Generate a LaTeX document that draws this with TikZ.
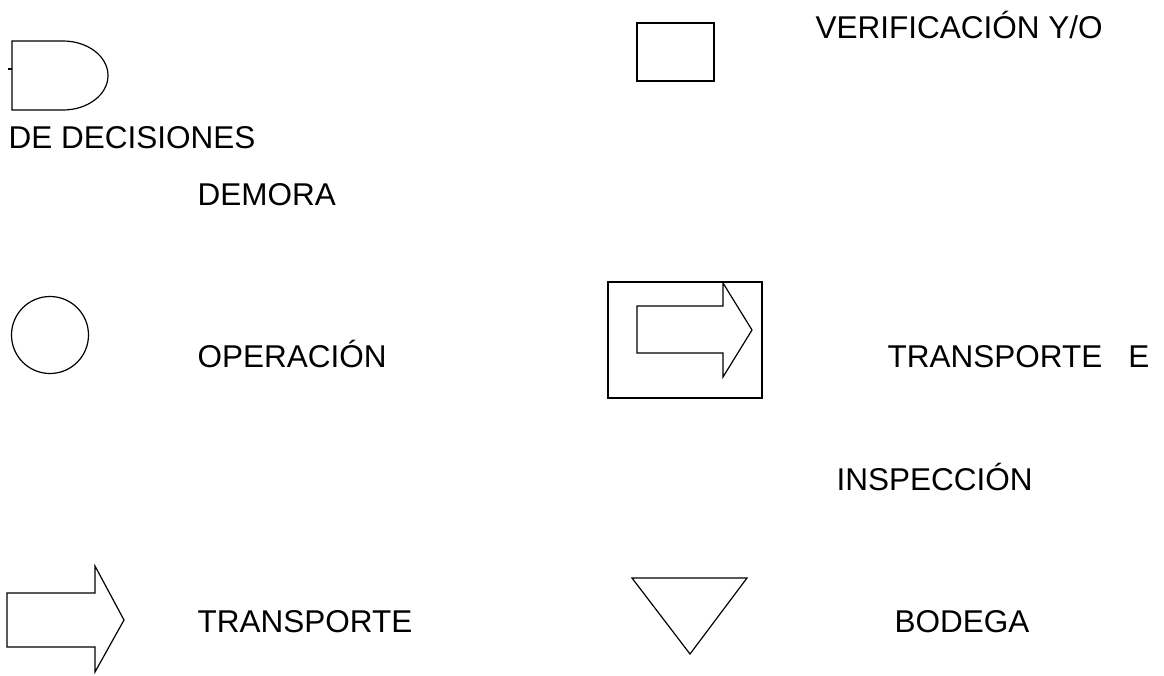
\documentclass[tikz,border=0pt]{standalone}
\usepackage{fontspec}
\setmainfont{Liberation Sans}

\begin{document}
\begin{tikzpicture}[x=1pt,y=-1pt,line width=1.2pt,
      lbl/.style={anchor=base west,inner sep=0pt,font=\fontsize{31.5}{36}\selectfont}]
      \useasboundingbox[fill=white] (0,0) rectangle (1164,675);

      % symbols
      \draw (12,41) -- (63,41) arc[start angle=-90,end angle=90,x radius=45,y radius=34.5] -- (12,110) -- cycle;
      \draw (8,69) -- (12,69);
      \draw[line width=1.6pt] (637,23) rectangle (714,81);
      \draw (50,335) circle[radius=38.5];
      \draw (608,282) rectangle (762,398);
      \draw (637,306) -- (723,306) -- (723,283) -- (752,330) -- (723,377) -- (723,353) -- (637,353) -- cycle;
      \draw (7,593) -- (95,593) -- (95,566) -- (124,620) -- (95,672) -- (95,647) -- (7,647) -- cycle;
      \draw (632,578) -- (747,578) -- (690,654) -- cycle;

      % labels
      \node[lbl] (verif) at (815,38) {VERIFICACIÓN Y/O};
      \node[lbl] (decisiones) at (8,148) {DE DECISIONES};
      \node[lbl] (demora) at (197,205) {DEMORA};
      \node[lbl] (operacion) at (197,367) {OPERACIÓN};
      \node[lbl] (transpE) at (887,367) {TRANSPORTE\hspace{26pt}E};
      \node[lbl] (inspeccion) at (836,490) {INSPECCIÓN};
      \node[lbl] (transporte) at (197,632) {TRANSPORTE};
      \node[lbl] (bodega) at (894,632) {BODEGA};
    \end{tikzpicture}
\end{document}
